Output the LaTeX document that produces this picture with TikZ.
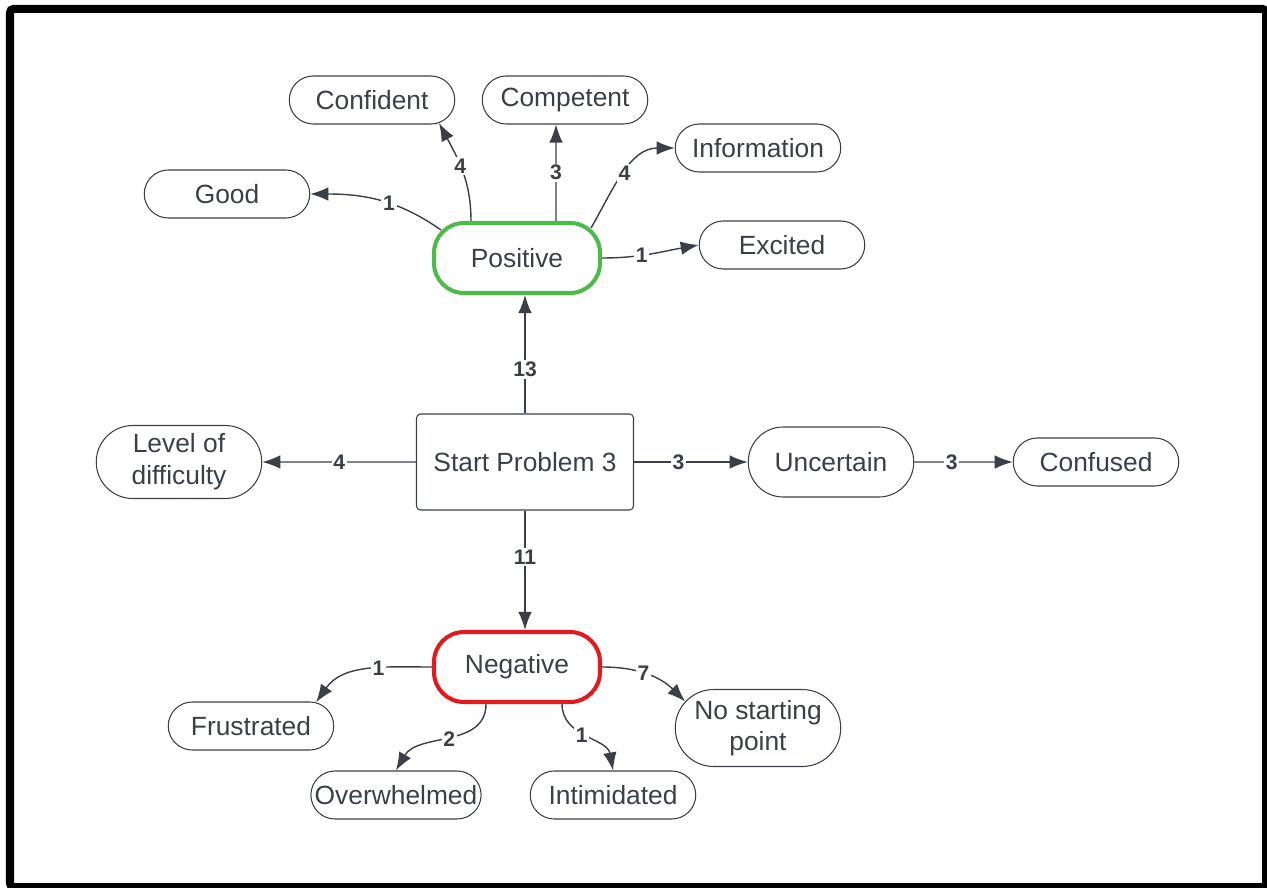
\documentclass[tikz,border=0pt]{standalone}
\usepackage{fontspec}
\setmainfont{Liberation Sans}
\usetikzlibrary{positioning,shapes.misc,arrows.meta}

\definecolor{ink}{HTML}{3A3F48}
\definecolor{posgreen}{HTML}{4CBB4A}
\definecolor{negred}{HTML}{E3191E}

\tikzset{
  feel/.style={rounded rectangle, draw=ink, line width=0.6pt, text=ink, align=center,
    minimum width=3.38cm, minimum height=0.96cm, inner xsep=1pt,
    font=\fontsize{15}{18}\selectfont},
  tallfeel/.style={feel, minimum height=1.46cm},
  mood/.style={rectangle, rounded corners=0.6cm, line width=2.3pt, text=ink,
    minimum width=3.32cm, minimum height=1.40cm, font=\fontsize{15}{18}\selectfont},
  count/.style={fill=white, inner sep=1pt, text=ink,
    font=\fontsize{12}{14}\selectfont\bfseries},
  link/.style={draw=ink, line width=0.8pt, -{Latex[length=3.6mm,width=2.7mm]}},
}

\begin{document}
\begin{tikzpicture}[on grid]
 \useasboundingbox (0,0) rectangle (25.34,-17.76);
 \draw[line width=0.16cm, rounded corners=2pt] (0.2,-0.18) rectangle (25.32,-17.74);

 \node [draw=ink, line width=0.6pt, rounded corners=0.08cm, text=ink,
   minimum width=4.34cm, minimum height=1.92cm, font=\fontsize{15}{18}\selectfont]
   (start) at (10.5,-9.24) {Start Problem 3};
 \node [mood, draw=posgreen, above left=4.08cm and 0.16cm of start] (positive) {Positive};
 \node [mood, draw=negred, below left=4.10cm and 0.16cm of start] (negative) {Negative};
 \node [tallfeel, left=6.92cm of start] (level) {Level of\\difficulty};
 \node [tallfeel, minimum height=1.40cm, right=6.12cm of start] (uncertain) {Uncertain};
 \node [feel, right=5.30cm of uncertain] (confused) {Confused};

 \node [feel, above left=1.28cm and 5.80cm of positive] (good) {Good};
 \node [feel, above left=3.16cm and 2.90cm of positive] (confident) {Confident};
 \node [feel, above right=3.16cm and 0.96cm of positive] (competent) {Competent};
 \node [feel, above right=2.20cm and 4.82cm of positive] (information) {Information};
 \node [feel, above right=0.26cm and 5.30cm of positive] (excited) {Excited};

 \node [feel, below left=1.18cm and 5.32cm of negative] (frustrated) {Frustrated};
 \node [feel, below left=2.56cm and 2.42cm of negative] (overwhelmed) {Overwhelmed};
 \node [feel, below right=2.56cm and 1.92cm of negative] (intimidated) {Intimidated};
 \node [tallfeel, minimum height=1.54cm, below right=1.22cm and 4.82cm of negative] (nostart) {No starting\\point};

 \draw[link] (start) -- node[count, pos=0.37] {13} (start |- positive.south);
 \draw[link] (start) -- node[count, pos=0.39] {11} (start |- negative.north);
 \draw[link] (start) -- node[count] {4} (level);
 \draw[link] (start) -- node[count, pos=0.39] {3} (uncertain);
 \draw[link] (uncertain) -- node[count, pos=0.38] {3} (confused);

 \draw[link] ([shift={(0.18,-0.18)}]positive.north west) to[out=145, in=0] node[count, pos=0.42] {1} (good.east);
 \draw[link] ([xshift=-0.92cm]positive.north) to[out=90, in=-62] node[count, pos=0.55] {4} (confident.-19);
 \draw[link] ([xshift=0.78cm]positive.north) -- node[count] {3} ([xshift=-0.18cm]competent.south);
 \draw[link] ([shift={(-0.22,-0.14)}]positive.north east) to[out=60, in=180] node[count, pos=0.5] {4} (information.west);
 \draw[link] (positive.east) to[out=0, in=190] node[count, pos=0.4] {1} (excited.west);

 \draw[link] (negative.west) to[out=180, in=55] node[count, pos=0.4] {1} (frustrated.20);
 \draw[link] ([xshift=-0.62cm]negative.south) to[out=-90, in=60] node[count] {2} (overwhelmed.north);
 \draw[link] ([xshift=0.9cm]negative.south) to[out=-90, in=100] node[count, pos=0.45] {1} (intimidated.north);
 \draw[link] (negative.east) to[out=0, in=135] node[count, pos=0.45] {7} (nostart.160);
\end{tikzpicture}
\end{document}
